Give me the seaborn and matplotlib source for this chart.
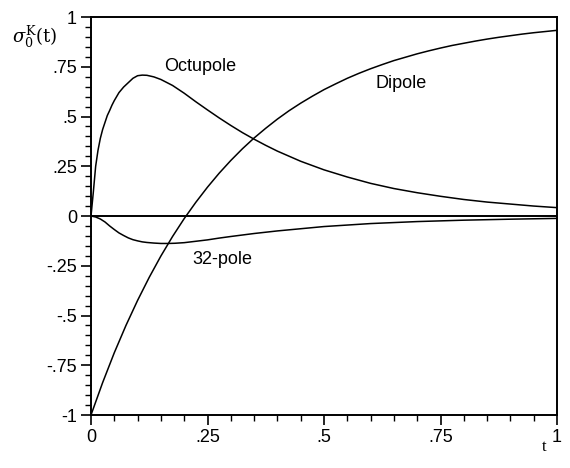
import numpy as np
import pandas as pd
import matplotlib
matplotlib.use("Agg")
import matplotlib.pyplot as plt
import seaborn as sns

# Dipole
t_dip = [0, 0.025, 0.05, 0.075, 0.1, 0.125, 0.15, 0.175, 0.2, 0.225, 0.25,
         0.275, 0.3, 0.325, 0.35, 0.375, 0.4, 0.425, 0.45, 0.475, 0.5,
         0.525, 0.55, 0.575, 0.6, 0.625, 0.65, 0.675, 0.7, 0.725, 0.75,
         0.775, 0.8, 0.825, 0.85, 0.875, 0.9, 0.925, 0.95, 0.975, 1.0]
v_dip = [-1.0, -0.837, -0.687, -0.550, -0.424, -0.308, -0.201, -0.103,
         -0.013, 0.069, 0.145, 0.215, 0.279, 0.338, 0.392, 0.441, 0.487,
         0.529, 0.567, 0.602, 0.635, 0.664, 0.692, 0.717, 0.740, 0.761,
         0.781, 0.798, 0.815, 0.830, 0.844, 0.857, 0.868, 0.879, 0.889,
         0.898, 0.906, 0.914, 0.921, 0.927, 0.933]

# Octupole
t_oct = [0, 0.0025, 0.005, 0.0075, 0.01, 0.015, 0.02, 0.025, 0.03, 0.035,
         0.04, 0.045, 0.05, 0.055, 0.06, 0.07, 0.08, 0.09, 0.1, 0.11, 0.12,
         0.135, 0.15, 0.175, 0.2, 0.225, 0.25, 0.275, 0.3, 0.325, 0.35,
         0.375, 0.4, 0.45, 0.5, 0.55, 0.6, 0.65, 0.7, 0.75, 0.8, 0.85,
         0.9, 0.95, 1.0]
v_oct = [0, 0.06, 0.12, 0.185, 0.25, 0.33, 0.39, 0.435, 0.47, 0.505,
         0.53, 0.557, 0.58, 0.60, 0.62, 0.648, 0.67, 0.692, 0.705, 0.708,
         0.707, 0.699, 0.686, 0.656, 0.617, 0.574, 0.533, 0.493, 0.455,
         0.419, 0.386, 0.355, 0.326, 0.275, 0.232, 0.196, 0.164, 0.138,
         0.117, 0.099, 0.083, 0.07, 0.06, 0.05, 0.042]

# 32-pole
t_32 = [0, 0.01, 0.02, 0.03, 0.04, 0.05, 0.06, 0.07, 0.08, 0.09, 0.1, 0.11,
        0.12, 0.135, 0.15, 0.165, 0.18, 0.2, 0.225, 0.25, 0.275, 0.3, 0.35,
        0.4, 0.45, 0.5, 0.6, 0.7, 0.8, 0.9, 1.0]
v_32 = [0, -0.005, -0.015, -0.03, -0.05, -0.068, -0.085, -0.098, -0.11,
        -0.119, -0.125, -0.13, -0.133, -0.136, -0.138, -0.138, -0.137,
        -0.134, -0.127, -0.12, -0.111, -0.103, -0.088, -0.075, -0.064,
        -0.053, -0.038, -0.028, -0.021, -0.016, -0.012]

x_ticks = [0, 0.25, 0.5, 0.75, 1.0]
x_ticklabels = ["0", ".25", ".5", ".75", "1"]
y_ticks = [-1, -0.75, -0.5, -0.25, 0, 0.25, 0.5, 0.75, 1]
y_ticklabels = ["-1", "-.75", "-.5", "-.25", "0", ".25", ".5", ".75", "1"]

labels = ["Octupole", "Dipole", "32-pole"]
label_pos = [(0.234, 0.75), (0.665, 0.666), (0.281, -0.217)]

sns.set_theme(style="ticks")
plt.rcParams['font.family'] = ['Liberation Sans', 'DejaVu Sans']

fig = plt.figure(figsize=(5.7, 4.68), dpi=100)
ax = fig.add_axes([91/570, 1 - 415/468, (557 - 91)/570, (415 - 17)/468])

for t, v in [(t_dip, v_dip), (t_oct, v_oct), (t_32, v_32)]:
    df = pd.DataFrame({"t": t, "v": v})
    sns.lineplot(data=df, x="t", y="v", ax=ax, color="black", lw=1.1,
                 estimator=None, sort=True)

ax.axhline(0, color="black", lw=1.4)

ax.set_xlim(0, 1)
ax.set_ylim(-1, 1)
ax.set_xticks(x_ticks)
ax.set_xticklabels(x_ticklabels)
ax.set_yticks(y_ticks)
ax.set_yticklabels(y_ticklabels)
ax.set_xticks(np.arange(0, 1.001, 0.05), minor=True)
ax.set_yticks(np.arange(-1, 1.001, 0.05), minor=True)
ax.tick_params(which="major", direction="out", length=7, width=1.2,
               labelsize=13, color="black", labelcolor="black", pad=3)
ax.tick_params(which="minor", direction="out", length=4, width=1.0,
               color="black")
ax.set_xlabel("")
ax.set_ylabel("")
for s in ax.spines.values():
    s.set_visible(True)
    s.set_color("black")
    s.set_linewidth(1.4)

for lab, (x, y) in zip(labels, label_pos):
    ax.text(x, y, lab, ha="center", va="center", fontsize=13, color="black")

fig.text(12/570, 1 - 37/468, r"$\sigma_0^{\rm K}(\rm t)$", fontsize=13,
         ha="left", va="center", math_fontfamily="dejavuserif", color="black")
fig.text(544/570, 1 - 447/468, "t", fontsize=12, ha="center", va="center",
         family="Liberation Serif", color="black")

fig.savefig("out.png", dpi=100, facecolor="white")
